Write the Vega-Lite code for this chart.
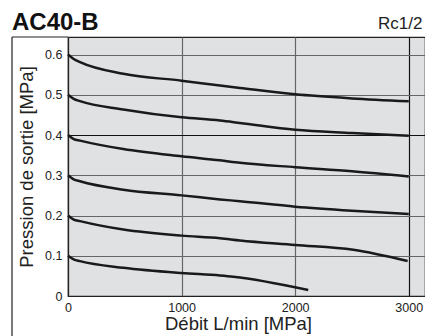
{
  "$schema": "https://vega.github.io/schema/vega-lite/v6.json",
  "width": 357,
  "height": 259,
  "autosize": {"type": "none"},
  "padding": {"left": 68, "top": 37, "right": 0, "bottom": 40},
  "background": "white",
  "title": {
    "text": "AC40-B",
    "anchor": "start",
    "frame": "group",
    "dx": -56,
    "font": "Liberation Sans",
    "fontSize": 24,
    "fontWeight": "bold",
    "color": "#111",
    "baseline": "alphabetic",
    "offset": -40
  },
  "config": {
    "view": {"fill": "#e0e1e3", "stroke": "#222", "strokeWidth": 1.2},
    "font": "Liberation Sans",
    "axis": {
      "labelFont": "Liberation Sans",
      "titleFont": "Liberation Sans",
      "labelColor": "#222",
      "titleColor": "#222",
      "titleFontWeight": "normal",
      "labelFontSize": 12.5,
      "titleFontSize": 18.5,
      "ticks": false,
      "domainColor": "#222",
      "domainWidth": 1.2,
      "gridWidth": 1.2
    }
  },
  "data": {
    "values": [
      {"set": "0.6", "flow": 0, "p": 0.6},
      {"set": "0.6", "flow": 50, "p": 0.589},
      {"set": "0.6", "flow": 106, "p": 0.581},
      {"set": "0.6", "flow": 487, "p": 0.552},
      {"set": "0.6", "flow": 1000, "p": 0.535},
      {"set": "0.6", "flow": 1338, "p": 0.523},
      {"set": "0.6", "flow": 1514, "p": 0.517},
      {"set": "0.6", "flow": 2000, "p": 0.501},
      {"set": "0.6", "flow": 2500, "p": 0.491},
      {"set": "0.6", "flow": 3000, "p": 0.484},
      {"set": "0.5", "flow": 0, "p": 0.5},
      {"set": "0.5", "flow": 50, "p": 0.49},
      {"set": "0.5", "flow": 106, "p": 0.484},
      {"set": "0.5", "flow": 487, "p": 0.4635},
      {"set": "0.5", "flow": 1000, "p": 0.444},
      {"set": "0.5", "flow": 1338, "p": 0.436},
      {"set": "0.5", "flow": 1514, "p": 0.43},
      {"set": "0.5", "flow": 2000, "p": 0.413},
      {"set": "0.5", "flow": 2500, "p": 0.405},
      {"set": "0.5", "flow": 3000, "p": 0.398},
      {"set": "0.4", "flow": 0, "p": 0.4},
      {"set": "0.4", "flow": 50, "p": 0.39},
      {"set": "0.4", "flow": 106, "p": 0.386},
      {"set": "0.4", "flow": 487, "p": 0.365},
      {"set": "0.4", "flow": 1000, "p": 0.347},
      {"set": "0.4", "flow": 1338, "p": 0.337},
      {"set": "0.4", "flow": 1514, "p": 0.331},
      {"set": "0.4", "flow": 2000, "p": 0.32},
      {"set": "0.4", "flow": 2500, "p": 0.31},
      {"set": "0.4", "flow": 3000, "p": 0.297},
      {"set": "0.3", "flow": 0, "p": 0.3},
      {"set": "0.3", "flow": 50, "p": 0.29},
      {"set": "0.3", "flow": 106, "p": 0.285},
      {"set": "0.3", "flow": 487, "p": 0.264},
      {"set": "0.3", "flow": 1000, "p": 0.25},
      {"set": "0.3", "flow": 1338, "p": 0.24},
      {"set": "0.3", "flow": 1514, "p": 0.2355},
      {"set": "0.3", "flow": 2000, "p": 0.222},
      {"set": "0.3", "flow": 2500, "p": 0.212},
      {"set": "0.3", "flow": 3000, "p": 0.204},
      {"set": "0.2", "flow": 0, "p": 0.2},
      {"set": "0.2", "flow": 50, "p": 0.19},
      {"set": "0.2", "flow": 106, "p": 0.186},
      {"set": "0.2", "flow": 487, "p": 0.165},
      {"set": "0.2", "flow": 1000, "p": 0.15},
      {"set": "0.2", "flow": 1338, "p": 0.1437},
      {"set": "0.2", "flow": 1514, "p": 0.138},
      {"set": "0.2", "flow": 2000, "p": 0.127},
      {"set": "0.2", "flow": 2512, "p": 0.115},
      {"set": "0.2", "flow": 2990, "p": 0.087},
      {"set": "0.1", "flow": 0, "p": 0.1},
      {"set": "0.1", "flow": 50, "p": 0.091},
      {"set": "0.1", "flow": 106, "p": 0.0866},
      {"set": "0.1", "flow": 487, "p": 0.07},
      {"set": "0.1", "flow": 1000, "p": 0.057},
      {"set": "0.1", "flow": 1338, "p": 0.051},
      {"set": "0.1", "flow": 1455, "p": 0.048},
      {"set": "0.1", "flow": 2115, "p": 0.015}
    ]
  },
  "resolve": {"axis": {"x": "independent"}},
  "layer": [
    {
      "data": {"values": [{}]},
      "mark": {"type": "rule", "color": "#222", "strokeWidth": 1.2},
      "encoding": {
        "x": {"datum": -493, "type": "quantitative", "scale": {"domain": [0, 3143], "nice": false, "zero": false}, "axis": {"orient": "top", "title": "Rc1/2", "titleFontSize": 17, "titleColor": "#222", "titleAnchor": "end", "titleAlign": "right", "titleX": 354, "titleY": -9, "titleBaseline": "alphabetic", "labels": false, "domain": false, "grid": false, "ticks": false}},
        "y": {"datum": 0.6435, "type": "quantitative"},
        "y2": {"datum": -0.1}
      }
    },
    {
      "data": {"values": [{}]},
      "mark": {"type": "rule", "color": "#222", "strokeWidth": 1.2},
      "encoding": {
        "x": {"datum": -493, "type": "quantitative", "axis": null},
        "x2": {"datum": 0},
        "y": {"datum": 0.6435, "type": "quantitative"}
      }
    },
    {
      "mark": {"type": "line", "color": "#1a1a1a", "strokeWidth": 2.5, "interpolate": "monotone"},
      "encoding": {
        "x": {
          "field": "flow",
          "type": "quantitative",
          "scale": {"domain": [0, 3143], "nice": false, "zero": false},
          "axis": {
            "orient": "bottom",
            "values": [0, 1000, 2000, 3000],
            "format": "d",
            "labelFlush": false,
            "labelPadding": 5,
            "grid": true,
            "gridColor": {"condition": {"test": "datum.value == 3000", "value": "#111"}, "value": "#666"},
            "title": "Débit L/min [MPa]",
            "titleX": 170,
            "titlePadding": 1
          }
        },
        "y": {
          "field": "p",
          "type": "quantitative",
          "scale": {"domain": [0, 0.6435], "nice": false, "zero": false},
          "axis": {
            "values": [0, 0.1, 0.2, 0.3, 0.4, 0.5, 0.6],
            "format": ".1~f",
            "labelPadding": 6,
            "grid": true,
            "gridColor": {"condition": {"test": "datum.value == 0.4", "value": "#111"}, "value": "#666"},
            "title": "Pression de sortie [MPa]",
            "titlePadding": 8
          }
        },
        "detail": {"field": "set", "type": "nominal"}
      }
    }
  ]
}
